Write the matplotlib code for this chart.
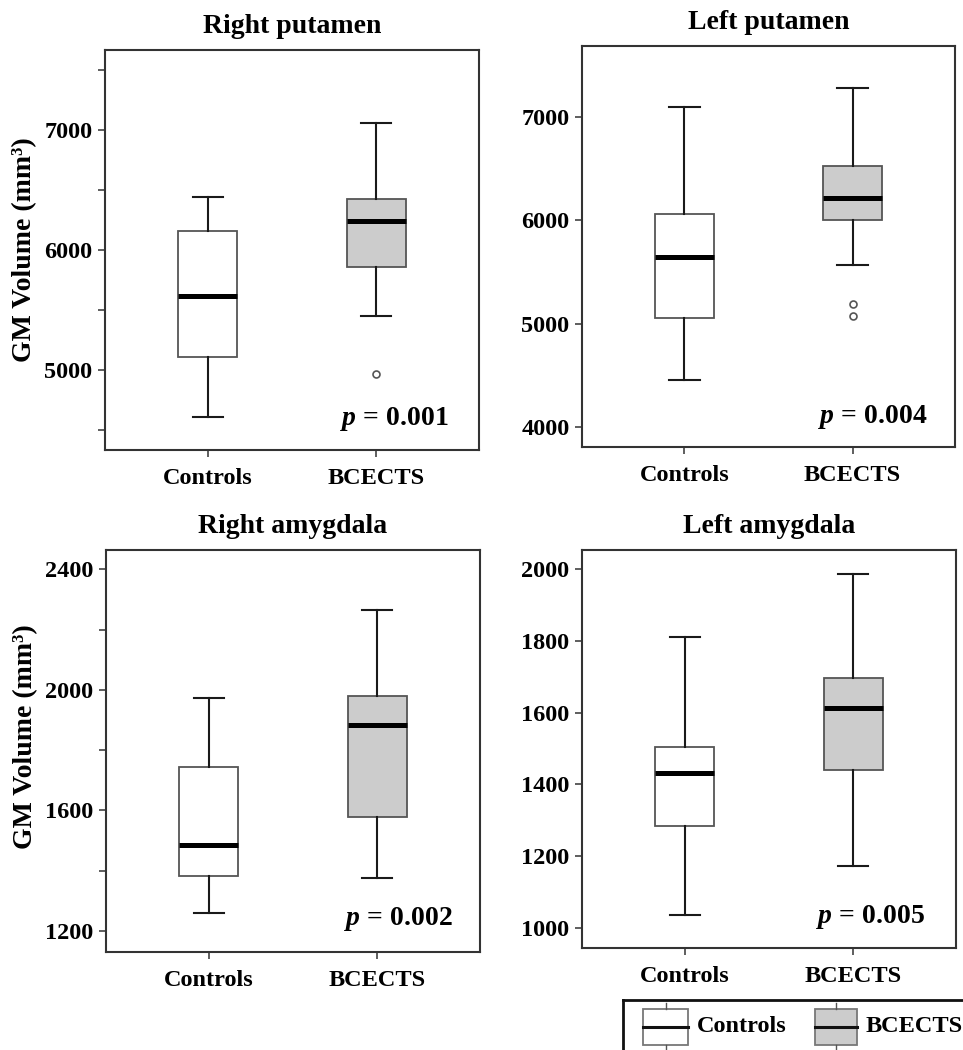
import matplotlib
matplotlib.use('Agg')
import matplotlib.pyplot as plt
from matplotlib.patches import Rectangle
from matplotlib.lines import Line2D
from matplotlib.ticker import FuncFormatter

# five-number summaries: lower whisker, Q1, median, Q3, upper whisker
groups = ['Controls', 'BCECTS']

rput_controls = [4608, 5108, 5617, 6158, 6442]
rput_bcects = [5450, 5858, 6242, 6425, 7058]
rput_outliers = [4967]

lput_controls = [4451, 5055, 5649, 6065, 7097]
lput_bcects = [5571, 6000, 6217, 6529, 7277]
lput_outliers = [5190, 5077]

ramy_controls = [1261, 1382, 1485, 1743, 1972]
ramy_bcects = [1374, 1579, 1884, 1981, 2264]

lamy_controls = [1035, 1285, 1432, 1504, 1812]
lamy_bcects = [1172, 1441, 1613, 1697, 1987]

titles = ['Right putamen', 'Left putamen', 'Right amygdala', 'Left amygdala']
p_values = ['0.001', '0.004', '0.002', '0.005']

plt.rcParams['font.family'] = ['Liberation Serif', 'DejaVu Serif']
plt.rcParams['font.weight'] = 'bold'
plt.rcParams['mathtext.fontset'] = 'custom'
plt.rcParams['mathtext.it'] = 'Liberation Serif:italic'
plt.rcParams['mathtext.rm'] = 'Liberation Serif:bold'

W, H = 963, 1050
fig = plt.figure(figsize=(W / 100, H / 100), dpi=100)


def px_rect(l, t, r, b):
    return [l / W, 1 - b / H, (r - l) / W, (b - t) / H]


def summary(vals, fliers=()):
    return dict(whislo=vals[0], q1=vals[1], med=vals[2], q3=vals[3],
                whishi=vals[4], fliers=list(fliers))


BOX_EDGE = '#555555'
FILLS = ['white', '#cccccc']


def draw_panel(rect, stats, title, pval, ylim, ticks, label_every, ylabel,
               ptxt_pos, ylab_y=0.5):
    ax = fig.add_axes(px_rect(*rect))
    bp = ax.bxp(stats, positions=[1, 2], widths=0.35, capwidths=0.18,
                patch_artist=True, showfliers=True,
                boxprops=dict(edgecolor=BOX_EDGE, linewidth=1.3),
                whiskerprops=dict(color='#1a1a1a', linewidth=1.5),
                capprops=dict(color='#1a1a1a', linewidth=1.5),
                medianprops=dict(color='black', linewidth=3.6,
                                 solid_capstyle='butt'),
                flierprops=dict(marker='o', markerfacecolor='none',
                                markeredgecolor=BOX_EDGE, markersize=5,
                                markeredgewidth=1.2))
    for patch, fc in zip(bp['boxes'], FILLS):
        patch.set_facecolor(fc)

    ax.set_xlim(0.39, 2.61)
    ax.set_ylim(*ylim)
    ax.set_xticks([1, 2])
    ax.set_xticklabels(groups)
    ax.set_yticks(ticks)
    ax.yaxis.set_major_formatter(
        FuncFormatter(lambda v, _: '%d' % v if round(v) % label_every == 0 else ''))
    ax.tick_params(axis='both', direction='out', length=5, width=1.1,
                   color='#333333', labelsize=17.5)
    ax.tick_params(axis='x', pad=8)
    ax.tick_params(axis='y', pad=4)
    for lab in ax.get_xticklabels() + ax.get_yticklabels():
        lab.set_fontweight('bold')
    for sp in ax.spines.values():
        sp.set_color('#333333')
        sp.set_linewidth(1.5)

    ax.set_title(title, fontsize=20, fontweight='bold', pad=12.5)
    if ylabel:
        ax.set_ylabel('GM Volume (mm\u00b3)', fontsize=20, fontweight='bold')
        ax.yaxis.label.set_va('center')
        ax.yaxis.set_label_coords(-80 / 374, ylab_y)
    ax.text(ptxt_pos[0], ptxt_pos[1], r'$\mathit{p}$ = ' + pval,
            transform=ax.transAxes, ha='right', va='baseline',
            fontsize=20, fontweight='bold')
    return ax


draw_panel((105, 50, 479, 450),
           [summary(rput_controls), summary(rput_bcects, rput_outliers)],
           titles[0], p_values[0], (4333, 7667),
           [4500, 5000, 5500, 6000, 6500, 7000, 7500], 1000, True,
           (0.92, 0.062))

draw_panel((582, 46, 955, 447),
           [summary(lput_controls), summary(lput_bcects, lput_outliers)],
           titles[1], p_values[1], (3806, 7687),
           [4000, 5000, 6000, 7000], 1000, False,
           (0.925, 0.06))

draw_panel((106, 550, 480, 952),
           [summary(ramy_controls), summary(ramy_bcects)],
           titles[2], p_values[2], (1130, 2464),
           [1200, 1400, 1600, 1800, 2000, 2200, 2400], 400, True,
           (0.928, 0.067), ylab_y=0.535)

draw_panel((582, 550, 956, 948),
           [summary(lamy_controls), summary(lamy_bcects)],
           titles[3], p_values[3], (944, 2054),
           [1000, 1200, 1400, 1600, 1800, 2000], 200, False,
           (0.917, 0.063))

# legend frame, cut off by the right and bottom edges like the original
leg = fig.add_axes([623 / W, -0.05, 0.5, (1050 - 1000) / H + 0.05])
leg.set_xticks([])
leg.set_yticks([])
leg.patch.set_alpha(0)
for sp in leg.spines.values():
    sp.set_linewidth(2)
    sp.set_color('#111111')

tf = fig.transFigure


def legend_entry(x0, x1, fc, text, tx):
    y0, y1, ym = 1009, 1045, 1027
    xm = (x0 + x1) / 2
    fig.patches.append(Rectangle((x0 / W, 1 - y1 / H), (x1 - x0) / W,
                                 (y1 - y0) / H, transform=tf, facecolor=fc,
                                 edgecolor='#777777', linewidth=1.3))
    fig.lines.append(Line2D([x0 / W, x1 / W], [1 - ym / H, 1 - ym / H],
                            transform=tf, color='#111111', linewidth=2.2))
    for a, b in [(1003, y0), (y1, 1051)]:
        fig.lines.append(Line2D([xm / W, xm / W], [1 - a / H, 1 - b / H],
                                transform=tf, color='#555555', linewidth=1))
    fig.text(tx / W, 1 - ym / H, text, ha='left', va='center',
             fontsize=17.5, fontweight='bold')


legend_entry(643, 688, FILLS[0], groups[0], 697)
legend_entry(815, 857, FILLS[1], groups[1], 866)

fig.savefig('out.png', dpi=100)
